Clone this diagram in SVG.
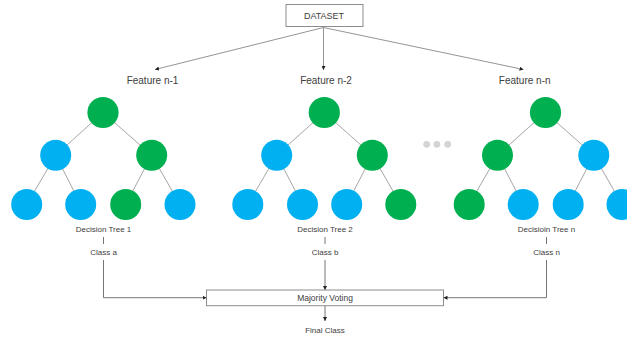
<svg xmlns="http://www.w3.org/2000/svg" width="627" height="337" viewBox="0 0 627 337">
<defs>
<marker id="arr" viewBox="0 0 6 6" refX="6" refY="3" markerWidth="4" markerHeight="4" orient="auto" markerUnits="userSpaceOnUse">
<path d="M0,0 L6,3 L0,6 Z" fill="#222"/>
</marker>
<style>
text{font-family:"Liberation Sans",Arial,sans-serif;fill:#404040;text-anchor:middle}
.f{font-size:10px}
.s{font-size:8px}
.box{fill:#fff;stroke:#8c8c8c;stroke-width:1}
.g{fill:#00b050}
.b{fill:#00b0f0}
.e{stroke:#a6a6a6;stroke-width:1;fill:none}
.c{stroke:#666;stroke-width:0.9;fill:none}
.c2{stroke:#888;stroke-width:0.9;fill:none}
.dot{fill:#d4d4d4}
</style>
</defs>
<g id="connectors">
<line class="c2" x1="323.5" y1="27.5" x2="155" y2="69.5" marker-end="url(#arr)"/>
<line class="c2" x1="323.5" y1="27.5" x2="323.5" y2="70" marker-end="url(#arr)"/>
<line class="c2" x1="323.5" y1="27.5" x2="523.5" y2="69.5" marker-end="url(#arr)"/>
<line class="c" x1="103.5" y1="237" x2="103.5" y2="244"/>
<line class="c" x1="325" y1="237" x2="325" y2="244"/>
<line class="c" x1="546.5" y1="237" x2="546.5" y2="244"/>
<polyline class="c" points="103.5,260 103.5,297.7 206.5,297.7" marker-end="url(#arr)"/>
<line class="c" x1="325" y1="260" x2="325" y2="290" marker-end="url(#arr)"/>
<polyline class="c" points="546.5,260 546.5,297.7 443.5,297.7" marker-end="url(#arr)"/>
<line class="c" x1="325" y1="306" x2="325" y2="321" marker-end="url(#arr)"/>
</g>
<g id="dataset">
<rect class="box" x="286" y="4.5" width="77" height="22"/>
<text x="324" y="19.2" style="font-size:9px">DATASET</text>
</g>
<g id="feature-n-1"><text class="f" x="152.5" y="83.5">Feature n-1</text></g>
<g id="feature-n-2"><text class="f" x="326" y="83.5">Feature n-2</text></g>
<g id="feature-n-n"><text class="f" x="524.7" y="83.5">Feature n-n</text></g>
<g id="tree-1">
<path class="e" d="M103,112.5 L55.7,155.2 M103,112.5 L151.7,155.2 M55.7,155.2 L26.7,204.5 M55.7,155.2 L80.7,204.5 M151.7,155.2 L125.7,204.5 M151.7,155.2 L180,204.5"/>
<circle class="g" cx="103" cy="112.5" r="15.6"/>
<circle class="b" cx="55.7" cy="155.2" r="15.5"/>
<circle class="g" cx="151.7" cy="155.2" r="15.5"/>
<circle class="b" cx="26.7" cy="204.5" r="15.5"/>
<circle class="b" cx="80.7" cy="204.5" r="15.5"/>
<circle class="g" cx="125.7" cy="204.5" r="15.5"/>
<circle class="b" cx="180" cy="204.5" r="15.5"/>
</g>
<g id="tree-2">
<path class="e" d="M324.3,112.5 L276.7,155.2 M324.3,112.5 L372.3,155.2 M276.7,155.2 L247.8,204.5 M276.7,155.2 L302.5,204.5 M372.3,155.2 L346.7,204.5 M372.3,155.2 L400.8,204.5"/>
<circle class="g" cx="324.3" cy="112.5" r="15.6"/>
<circle class="b" cx="276.7" cy="155.2" r="15.5"/>
<circle class="g" cx="372.3" cy="155.2" r="15.5"/>
<circle class="b" cx="247.8" cy="204.5" r="15.5"/>
<circle class="b" cx="302.5" cy="204.5" r="15.5"/>
<circle class="b" cx="346.7" cy="204.5" r="15.5"/>
<circle class="g" cx="400.8" cy="204.5" r="15.5"/>
</g>
<g id="dots">
<circle class="dot" cx="426.7" cy="144.3" r="3.4"/>
<circle class="dot" cx="436.9" cy="144.3" r="3.4"/>
<circle class="dot" cx="447.7" cy="144.3" r="3.4"/>
</g>
<g id="tree-n">
<path class="e" d="M545.5,112.5 L497.5,155.2 M545.5,112.5 L593.8,155.2 M497.5,155.2 L469.2,204.5 M497.5,155.2 L523.2,204.5 M593.8,155.2 L568.2,204.5 M593.8,155.2 L622,204.5"/>
<circle class="g" cx="545.5" cy="112.5" r="15.6"/>
<circle class="g" cx="497.5" cy="155.2" r="15.5"/>
<circle class="b" cx="593.8" cy="155.2" r="15.5"/>
<circle class="g" cx="469.2" cy="204.5" r="15.5"/>
<circle class="b" cx="523.2" cy="204.5" r="15.5"/>
<circle class="b" cx="568.2" cy="204.5" r="15.5"/>
<circle class="b" cx="622" cy="204.5" r="15.5"/>
</g>
<g id="label-tree-1"><text class="s" x="103.5" y="232">Decision Tree 1</text></g>
<g id="label-tree-2"><text class="s" x="325" y="232">Decision Tree 2</text></g>
<g id="label-tree-n"><text class="s" x="546.5" y="232">Decisioin Tree n</text></g>
<g id="class-a"><text class="s" x="103.5" y="254.8">Class a</text></g>
<g id="class-b"><text class="s" x="325" y="254.8">Class b</text></g>
<g id="class-n"><text class="s" x="546.5" y="254.8">Class n</text></g>
<g id="majority-voting">
<rect class="box" x="206.5" y="290" width="237" height="15.7"/>
<text x="325" y="301" style="font-size:8.5px">Majority Voting</text>
</g>
<g id="final-class"><text class="s" x="325" y="333">Final Class</text></g>
</svg>
